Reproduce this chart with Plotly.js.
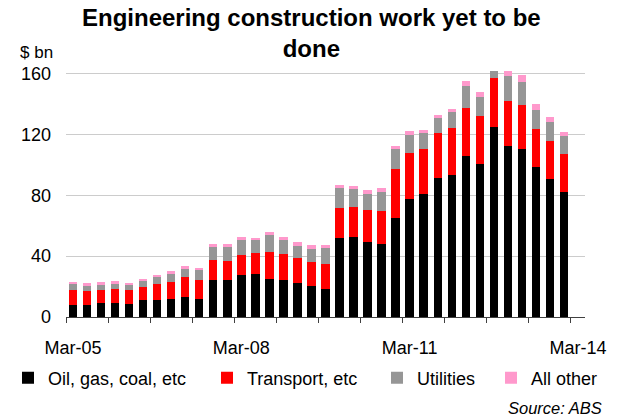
<!DOCTYPE html>
<html>
<head>
<meta charset="utf-8">
<script src="https://cdn.plot.ly/plotly-3.0.1.min.js"></script>
<style>html,body{margin:0;padding:0;background:#fff;}#chart{width:619px;height:419px;}</style>
</head>
<body>
<div id="chart"></div>
<script>
// Quarterly categories (last one, Mar-14, has no data yet)
var quarters = [
  "Mar-05","Jun-05","Sep-05","Dec-05",
  "Mar-06","Jun-06","Sep-06","Dec-06",
  "Mar-07","Jun-07","Sep-07","Dec-07",
  "Mar-08","Jun-08","Sep-08","Dec-08",
  "Mar-09","Jun-09","Sep-09","Dec-09",
  "Mar-10","Jun-10","Sep-10","Dec-10",
  "Mar-11","Jun-11","Sep-11","Dec-11",
  "Mar-12","Jun-12","Sep-12","Dec-12",
  "Mar-13","Jun-13","Sep-13","Dec-13",
  "Mar-14"
];
var tickLabels = ["Mar-05","Mar-08","Mar-11","Mar-14"];

// $ bn, Mar-05 .. Dec-13
var oilGasCoal = [7.7,7.7,9.0,9.0,8.3,11.2,11.2,11.8,12.9,11.6,24.1,24.1,27.4,28.1,24.8,24.1,22.1,20.4,18.2,51.9,52.4,49.3,48.2,65.1,77.4,80.7,91.6,93.6,105.9,100.6,124.7,112.4,110.2,98.6,91.0,82.4];
var transport  = [10.1,9.4,8.8,9.4,9.5,8.3,10.3,11.2,13.2,12.7,13.2,12.5,13.6,13.8,17.7,17.1,16.5,15.5,16.4,19.8,19.9,21.1,21.5,32.4,30.4,29.8,29.2,30.5,31.7,31.8,32.5,29.8,29.4,24.8,24.7,24.8];
var utilities  = [3.7,3.3,3.2,3.1,3.2,4.0,4.6,5.1,5.7,6.4,8.7,9.4,9.6,8.5,11.4,9.4,8.1,8.8,10.8,12.9,12.1,10.7,12.7,12.7,12.1,10.3,10.3,10.9,14.5,12.3,14.5,16.3,14.9,12.9,12.3,11.8];
var allOther   = [1.5,1.7,1.8,2.0,1.1,1.3,1.3,1.9,1.5,1.7,1.8,2.2,2.0,1.5,2.0,2.0,2.8,2.6,1.9,2.4,2.0,2.6,2.2,2.0,2.2,1.9,1.9,2.0,2.9,3.0,3.5,3.5,4.4,3.5,3.3,2.4];

var seriesNames = ["Oil, gas, coal, etc","Transport, etc","Utilities","All other"];
var seriesColors = ["#000000","#ff0000","#969696","#ff99cc"];
var seriesValues = [oilGasCoal, transport, utilities, allOther];
var legendIds = ["legend","legend2","legend3","legend4"];

var dataQuarters = quarters.slice(0, oilGasCoal.length);
var traces = seriesValues.map(function(v, i){
  return {type:"bar", name:seriesNames[i], x:dataQuarters, y:v, legend:legendIds[i],
          marker:{color:seriesColors[i], line:{width:0}}, hoverinfo:"x+y+name"};
});
// helper trace so the tick-mark axis (every 3 quarters at category boundaries) is drawn
traces.push({type:"scatter", x:[0], y:[null], xaxis:"x2", showlegend:false, hoverinfo:"skip", mode:"markers"});

var boundaryTicks = [];
quarters.forEach(function(q, i){ if (i % 3 === 0) boundaryTicks.push(i - 0.5); });

var font = "Liberation Sans, Arial, sans-serif";
var W = 619, H = 419;
function legendAt(px){
  return {orientation:"h", x:px/W, xanchor:"left", xref:"container",
          y:1-378/H, yanchor:"middle", yref:"container", itemwidth:30,
          font:{family:font, size:18, color:"#000"}, bgcolor:"rgba(0,0,0,0)", borderwidth:0};
}

var layout = {
  width:W, height:H,
  margin:{l:66, r:33.5, t:70.7, b:102},
  paper_bgcolor:"#fff", plot_bgcolor:"#fff",
  font:{family:font, size:18, color:"#000"},
  barmode:"stack", bargap:0.4,
  title:{text:"<b>Engineering construction work yet to be<br>done</b>",
         font:{family:font, size:24, color:"#000"},
         x:0.503, xanchor:"center", y:1-26/H, yanchor:"top", yref:"container"},
  xaxis:{type:"category", categoryorder:"array", categoryarray:quarters,
         range:[-0.5, quarters.length - 0.5],
         tickmode:"array", tickvals:tickLabels, ticktext:tickLabels,
         ticks:"", showgrid:false, zeroline:false,
         showline:true, linecolor:"#404040", linewidth:1,
         ticklabelstandoff:14, tickfont:{size:18}},
  xaxis2:{overlaying:"x", anchor:"y", type:"linear",
          range:[-0.5, quarters.length - 0.5],
          tickmode:"array", tickvals:boundaryTicks,
          ticks:"outside", ticklen:5, tickcolor:"#404040", tickwidth:1,
          showticklabels:false, showgrid:false, zeroline:false, showline:false},
  yaxis:{range:[0, 161.75], tickmode:"linear", tick0:0, dtick:40,
         showgrid:true, gridcolor:"#cccccc", gridwidth:1,
         zeroline:false, showline:false, ticks:"",
         ticklabelstandoff:14, tickfont:{size:18}},
  legend:legendAt(8),
  legend2:legendAt(207),
  legend3:legendAt(377),
  legend4:legendAt(491),
  annotations:[
    {text:"$ bn", xref:"paper", yref:"paper", x:(18-66)/519.5, y:(317-52)/246.3,
     xanchor:"left", yanchor:"middle", showarrow:false, font:{size:17}},
    {text:"<i>Source: ABS</i>", xref:"paper", yref:"paper", x:(605-66)/519.5, y:(317-408)/246.3,
     xanchor:"right", yanchor:"middle", showarrow:false, font:{size:16.5}}
  ],
  showlegend:true
};

Plotly.newPlot("chart", traces, layout, {displayModeBar:false, staticPlot:true});
</script>
</body>
</html>
